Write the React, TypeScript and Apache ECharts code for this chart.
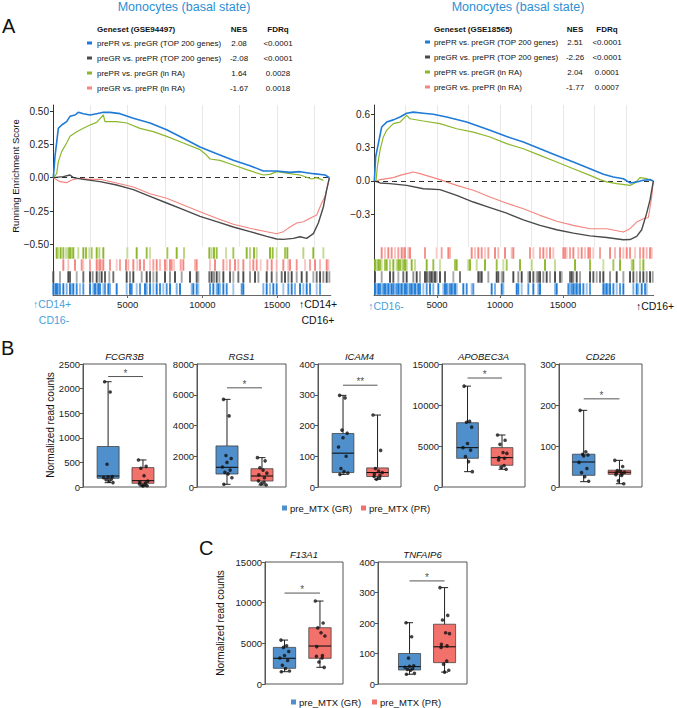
import React, { useEffect, useRef } from 'react';
import * as echarts from 'echarts';

const FONT = '"Liberation Sans", Arial, Helvetica, sans-serif';

// ---------------- Panel A : running enrichment score curves ----------------
const leftBlueES = [[22,0],[134,0.16],[357,0.37],[580,0.395],[915,0.42],[1138,0.46],[1473,0.47],[1696,0.49],[2031,0.48],[2477,0.47],[2924,0.48],[3370,0.49],[3817,0.49],[4486,0.48],[5379,0.445],[6495,0.41],[7611,0.36],[8727,0.295],[9843,0.23],[10959,0.18],[12075,0.13],[13191,0.09],[14084,0.05],[14977,0.05],[15870,0.04],[16539,0.045],[17432,0.03],[18213,0.02],[18503,0]];
const leftGreenES = [[22,0],[245,0.03],[357,0.12],[580,0.195],[915,0.26],[1138,0.31],[1585,0.345],[2031,0.37],[2477,0.395],[2924,0.415],[3370,0.47],[3482,0.42],[4263,0.42],[4933,0.41],[5826,0.37],[6718,0.345],[7611,0.31],[8727,0.26],[9843,0.21],[10178,0.18],[10513,0.14],[11182,0.13],[12075,0.095],[12968,0.06],[14084,0.02],[14530,0.025],[14977,0.045],[15870,0.03],[16539,0.02],[17320,-0.01],[17655,0],[18102,-0.02]];
const leftGreyES = [[22,0],[692,0.0075],[1138,0.02],[1362,0],[2031,-0.0125],[3147,-0.03],[4263,-0.055],[5379,-0.09],[6495,-0.14],[7611,-0.19],[8727,-0.24],[9843,-0.29],[10959,-0.33],[12075,-0.37],[13191,-0.405],[14307,-0.44],[14977,-0.46],[15423,-0.463],[16093,-0.455],[16539,-0.443],[16985,-0.455],[17432,-0.42],[17767,-0.34],[18102,-0.22],[18325,-0.09],[18503,0]];
const leftPinkES = [[22,0],[469,-0.03],[915,-0.0375],[1250,-0.0175],[1808,-0.005],[2477,-0.0125],[3147,-0.0125],[4263,-0.04],[5379,-0.07],[6495,-0.12],[7611,-0.155],[8727,-0.205],[9843,-0.255],[10959,-0.305],[12075,-0.35],[13191,-0.38],[14307,-0.405],[14977,-0.42],[15423,-0.405],[15870,-0.37],[16316,-0.34],[16762,-0.33],[17209,-0.305],[17655,-0.28],[17990,-0.19],[18213,-0.14],[18437,-0.04],[18503,0]];

const rightBlueES = [[26,0],[132,0.216],[344,0.336],[609,0.486],[1005,0.53],[1535,0.55],[2064,0.576],[2593,0.61],[3122,0.62],[3916,0.61],[4710,0.6],[5768,0.576],[7356,0.53],[9208,0.456],[10531,0.4],[11854,0.35],[13177,0.29],[14500,0.23],[15823,0.17],[17146,0.11],[18204,0.06],[18998,0.036],[19792,0.02],[20321,-0.018],[20850,-0.01],[21380,0.006],[21909,0.012],[22173,0]];
const rightGreenES = [[159,0],[265,0.126],[476,0.276],[741,0.396],[1005,0.456],[1535,0.516],[2064,0.53],[2593,0.59],[2858,0.56],[3916,0.54],[5239,0.516],[6562,0.47],[7885,0.44],[9208,0.396],[10531,0.336],[11854,0.29],[13177,0.23],[14500,0.17],[15823,0.11],[17146,0.05],[17940,0.012],[18469,-0.009],[19263,-0.024],[20321,-0.04],[20718,-0.018],[21115,0.03],[21644,0.021],[22041,0]];
const rightGreyES = [[26,0],[476,-0.018],[1270,-0.024],[2593,-0.04],[3916,-0.07],[5239,-0.078],[6562,-0.13],[7885,-0.19],[9208,-0.24],[10531,-0.29],[11854,-0.35],[13177,-0.4],[14500,-0.44],[15823,-0.47],[17146,-0.495],[18469,-0.51],[19792,-0.53],[20321,-0.528],[20850,-0.5],[21247,-0.44],[21644,-0.29],[21909,-0.17],[22173,0]];
const rightPinkES = [[212,0],[476,0.012],[1005,0.021],[1535,0.03],[2064,0.05],[2593,0.066],[3122,0.08],[3651,0.066],[4710,0.03],[5239,0.012],[6562,-0.04],[7885,-0.084],[9208,-0.144],[10531,-0.2],[11854,-0.25],[13177,-0.31],[14500,-0.363],[15823,-0.4],[17146,-0.43],[18469,-0.43],[19792,-0.46],[20321,-0.43],[20850,-0.37],[21380,-0.34],[21777,-0.33],[22041,-0.144],[22173,0]];

// gene-set hit positions (rank in list)
const leftGreenHits = [245,357,513,692,870,1027,1138,1250,1362,1696,2031,2210,2433,2589,2924,3102,3370,4977,5602,6272,6495,7656,8281,8772,10468,10624,10781,10959,11584,12075,12968,13191,13459,13638,14530,14709,14977,15535,15691,16762,17432,18102];
const leftPinkHits = [692,1027,1473,1920,2031,2478,2924,3036,3147,3259,3370,3817,4263,4486,4888,5044,5379,5647,5826,6093,6495,6718,6942,7165,7500,7611,7834,7946,8102,8549,8727,9508,9620,10513,10848,11406,11629,11852,12187,12410,12745,13191,13414,13638,13906,14352,14642,14977,15423,15758,15870,16316,16874,17209,17544,17879,18325,18437];
const leftGreyHits = [22,469,1027,1138,1585,2031,2478,2656,2924,3102,3259,3482,3772,4040,4933,5156,5379,5937,6272,6495,6718,6942,7500,7834,8169,8616,9174,9620,9732,10468,10624,10781,10959,11138,11406,11852,12075,12410,12745,13191,13526,13750,14307,14642,14977,15312,15535,15758,15981,16316,16651,16986,17432,17655,17879,18102,18325,18503];
const leftBlueHits = [22,112,201,290,379,469,692,915,1138,1250,1362,1585,1808,2031,2478,2701,2812,2924,3036,3147,3370,3482,3705,3817,4263,4933,5156,5268,5602,5826,6160,6272,6495,6718,6942,7165,7388,7611,7834,8281,8504,9285,9397,9620,9732,10513,10736,10959,11071,11182,11406,11629,12075,12633,12745,14084,14307,14530,14753,14977,15423,15758,15981,16204,16539,16762,16986,17209,17655,17879];

const rightPinkHits = [609,873,1138,1402,1667,1932,2196,2328,2461,2725,2858,4048,4974,5371,5901,6033,7753,8017,8282,8547,8811,9076,9605,9870,10399,10928,11060,12383,12648,13177,13442,13706,13971,14235,15029,15162,15294,15558,15823,16220,16485,16749,17014,17146,17411,17940,18734,19131,19528,19792,20057,20321,20718,21115,21380,21644,21909,22041];
const rightGreenHits = [79,212,344,476,609,873,1005,1270,1535,1799,1932,2064,2196,2328,2461,2593,2990,3255,4181,4710,5239,6430,6562,7488,7620,8150,8811,9737,10266,10531,11589,12516,13574,14368,15955,17146,18204,19000,19528,20454,20586,21115,21380];
const rightGreyHits = [79,609,1270,1535,1932,2328,2593,3122,3387,3651,4048,4181,4313,4445,4578,4710,4842,4974,5239,5636,6297,6827,8282,8414,8547,9076,9737,9870,10134,10266,11060,11457,11722,12251,12383,12648,12912,13045,13177,13442,13706,13971,14368,14765,14897,15558,15691,15823,16088,16352,17146,17411,17675,17940,18204,18734,19263,19792,20321,20586,20850,21115,21380,21644,21909,22121];
const rightBlueHits = [79,212,344,476,609,741,873,1005,1138,1270,1402,1535,1667,1799,1932,2064,2196,2328,2461,2593,2725,2858,2990,3122,3255,3387,3519,3651,3916,4181,4445,4710,5107,5504,5636,5768,5901,6033,6165,6297,6430,6562,7091,7356,7753,7885,9340,9605,10134,10266,11325,11457,11722,12251,12648,13045,13177,14368,14501,15426,15558,15691,15823,15955,16088,16220,16352,16617,16882,17146,18204,18337,18469,18602,18734,19000,19263,19528,19792,20586,20850,20983,21247,21512,21644];

const leftYTicks = [-0.5, -0.25, 0, 0.25, 0.5];
const rightYTicks = [-0.3, 0, 0.3, 0.6];
const rankTicks = [5000, 10000, 15000];

const leftTableGenesets = ['prePR vs. preGR (TOP 200 genes)', 'preGR vs. prePR (TOP 200 genes)', 'prePR vs. preGR (in RA)', 'preGR vs. prePR (in RA)'];
const leftNES = ['2.08', '-2.08', '1.64', '-1.67'];
const leftFDR = ['<0.0001', '<0.0001', '0.0028', '0.0018'];
const rightNES = ['2.51', '-2.26', '2.04', '-1.77'];
const rightFDR = ['<0.0001', '<0.0001', '0.0001', '0.0007'];

// ---------------- Panel B / C : box plots ----------------
const bGenes = ['FCGR3B', 'RGS1', 'ICAM4', 'APOBEC3A', 'CD226'];
const bAxisMax = [2500, 8000, 400, 15000, 300];
const bAxisStep = [500, 2000, 100, 5000, 100];
const bSigY = [2245, 6450, 331, 13290, 215];
const bSigText = ['*', '*', '**', '*', '*'];

// [lower whisker, Q1, median, Q3, upper whisker]
const FCGR3B_GR_box = [88, 177, 224, 823, 2140];
const FCGR3B_GR_pts = [2140, 1932, 463, 210, 200, 190, 160, 150, 120, 90];
const FCGR3B_PR_box = [20, 75, 129, 394, 550];
const FCGR3B_PR_pts = [550, 420, 380, 230, 120, 100, 80, 60, 45, 35, 25, 20];
const RGS1_GR_box = [175, 846, 1280, 2670, 5700];
const RGS1_GR_pts = [5700, 4625, 2050, 1850, 1600, 1300, 1100, 950, 850, 600, 175];
const RGS1_PR_box = [130, 390, 715, 1190, 1910];
const RGS1_PR_pts = [1910, 1700, 1250, 1100, 900, 800, 600, 400, 300, 200, 130];
const ICAM4_GR_box = [41, 47, 110, 174, 298];
const ICAM4_GR_pts = [298, 290, 185, 175, 160, 130, 100, 60, 50, 45, 41];
const ICAM4_PR_box = [25, 34, 47, 62, 234];
const ICAM4_PR_pts = [234, 119, 60, 52, 47, 42, 38, 34, 30, 25];
const APOBEC3A_GR_box = [1870, 3500, 4800, 7840, 12300];
const APOBEC3A_GR_pts = [12300, 8000, 7900, 7300, 5300, 4800, 4500, 3700, 3100, 1870];
const APOBEC3A_PR_box = [2160, 2650, 3580, 4800, 6340];
const APOBEC3A_PR_pts = [6340, 5700, 5200, 4200, 4100, 3600, 3500, 3300, 2600, 2400, 2160];
const CD226_GR_box = [13, 28.5, 61, 80, 187];
const CD226_GR_pts = [187, 86, 80, 78, 76, 60, 45, 35, 25, 14];
const CD226_PR_box = [8, 31, 36, 41, 65];
const CD226_PR_pts = [65, 50, 40, 38, 36, 34, 32, 30, 28, 15, 8];

const cGenes = ['F13A1', 'TNFAIP6'];
const cAxisMax = [15000, 400];
const cAxisStep = [5000, 100];
const cSigY = [11180, 338];
const cSigText = ['*', '*'];
const F13A1_GR_box = [1510, 1930, 3160, 4500, 5400];
const F13A1_GR_pts = [5400, 4700, 4500, 4000, 3500, 3200, 2900, 2300, 1900, 1600, 1510];
const F13A1_PR_box = [2050, 3160, 4670, 6920, 10200];
const F13A1_PR_pts = [10200, 7500, 6900, 6300, 5900, 4600, 3500, 3400, 3200, 2700, 2050];
const TNFAIP6_GR_box = [32, 46, 57, 100, 201];
const TNFAIP6_GR_pts = [201, 155, 85, 60, 58, 55, 50, 48, 45, 35, 32];
const TNFAIP6_PR_box = [39, 70, 122, 196, 316];
const TNFAIP6_PR_pts = [316, 225, 210, 168, 165, 130, 125, 120, 75, 65, 45, 39];

const groupNames = ['pre_MTX (GR)', 'pre_MTX (PR)'];

// ---------------- styles / layout ----------------
const COL_BLUE = '#1f7bd6';
const COL_GREEN = '#8cb72a';
const COL_GREY = '#4a4a4a';
const COL_PINK = '#f4857f';
const TITLE_BLUE = '#2a8fd4';
const BOX_BLUE = '#4f8fcb';
const BOX_PINK = '#f3716b';
const jitterPattern = [-0.1, 0.06, -0.03, 0.12, 0.0, -0.13, 0.09, -0.06, 0.03, 0.14, -0.09, 0.07];
const rugShade = [1, 0.5, 1, 0.9, 0.45, 0.8, 1, 0.6];

function txt(x: number, y: number, text: string, o: any = {}) {
  return {
    type: 'text', x, y, silent: true, rotation: o.rot || 0,
    style: {
      text,
      fill: o.fill || '#111',
      font: `${o.italic ? 'italic ' : ''}${o.bold ? 'bold ' : ''}${o.size || 9}px ${FONT}`,
      textAlign: o.align || 'left',
      textVerticalAlign: 'middle',
    },
  };
}

function buildOption() {
  const grids: any[] = [];
  const xAxes: any[] = [];
  const yAxes: any[] = [];
  const series: any[] = [];
  const graphic: any[] = [];

  const addGsea = (cfg: any) => {
    const gi = grids.length;
    grids.push({ left: cfg.left, top: 105, width: cfg.width, height: 142 });
    xAxes.push({
      gridIndex: gi, type: 'value', min: 0, max: cfg.xmax, interval: 2500,
      axisLine: { show: false }, axisTick: { show: false }, axisLabel: { show: false },
      splitLine: { show: true, showMinLine: false, showMaxLine: false, lineStyle: { color: '#e8e8e8', width: 1 } },
    });
    yAxes.push({
      gridIndex: gi, type: 'value', min: cfg.ymin, max: cfg.ymax,
      axisLine: { show: true, lineStyle: { color: '#333', width: 1 } },
      axisTick: { show: true, length: 3, customValues: cfg.yTicks, lineStyle: { color: '#333' } },
      axisLabel: {
        customValues: cfg.yTicks, fontSize: 10, color: '#222', margin: 4, fontFamily: FONT,
        formatter: (v: number) => v.toFixed(cfg.dec).replace('-', '\u2212'),
      },
      splitLine: { show: false },
    });
    cfg.curves.forEach((c: any, k: number) => {
      series.push({
        type: 'line', xAxisIndex: gi, yAxisIndex: gi, data: c.data, symbol: 'none', showSymbol: false,
        lineStyle: { color: c.color, width: c.width }, z: 3 + k, silent: true,
        markLine: k === 0 ? {
          silent: true, symbol: 'none', label: { show: false },
          lineStyle: { type: [5, 4], color: '#333', width: 1.1 }, data: [{ yAxis: 0 }],
        } : undefined,
      });
    });
    const ri = grids.length;
    grids.push({ left: cfg.left, top: 247, width: cfg.width, height: 48 });
    xAxes.push({
      gridIndex: ri, type: 'value', min: 0, max: cfg.xmax,
      axisLine: { show: true, lineStyle: { color: '#666', width: 1 } },
      axisTick: { show: true, length: 3, customValues: rankTicks, lineStyle: { color: '#666' } },
      axisLabel: { customValues: rankTicks, fontSize: 9.5, color: '#222', margin: 4, fontFamily: FONT, formatter: (v: number) => String(v) },
      splitLine: { show: false },
    });
    yAxes.push({
      gridIndex: ri, type: 'value', min: 0, max: 4,
      axisLine: { show: true, lineStyle: { color: '#333', width: 1 } },
      axisTick: { show: false }, axisLabel: { show: false }, splitLine: { show: false },
    });
    cfg.rugs.forEach((r: any, k: number) => {
      series.push({
        type: 'scatter', xAxisIndex: ri, yAxisIndex: ri, symbol: 'rect', symbolSize: [1.9, 11.5], silent: true,
        data: r.hits.map((h: number, i: number) => ({
          value: [h, 3.5 - k],
          itemStyle: { color: r.color, opacity: rugShade[i % rugShade.length] },
        })),
      });
    });
  };

  addGsea({
    left: 53, width: 277.8, xmax: 18600, ymin: -0.52, ymax: 0.545, yTicks: leftYTicks, dec: 2,
    curves: [
      { data: leftPinkES, color: COL_PINK, width: 1.1 },
      { data: leftGreyES, color: COL_GREY, width: 1.4 },
      { data: leftGreenES, color: COL_GREEN, width: 1.2 },
      { data: leftBlueES, color: COL_BLUE, width: 1.6 },
    ],
    rugs: [
      { hits: leftGreenHits, color: COL_GREEN },
      { hits: leftPinkHits, color: COL_PINK },
      { hits: leftGreyHits, color: COL_GREY },
      { hits: leftBlueHits, color: COL_BLUE },
    ],
  });
  addGsea({
    left: 374, width: 279.7, xmax: 22200, ymin: -0.595, ymax: 0.684, yTicks: rightYTicks, dec: 1,
    curves: [
      { data: rightPinkES, color: COL_PINK, width: 1.1 },
      { data: rightGreyES, color: COL_GREY, width: 1.4 },
      { data: rightGreenES, color: COL_GREEN, width: 1.2 },
      { data: rightBlueES, color: COL_BLUE, width: 1.6 },
    ],
    rugs: [
      { hits: rightPinkHits, color: COL_PINK },
      { hits: rightGreenHits, color: COL_GREEN },
      { hits: rightGreyHits, color: COL_GREY },
      { hits: rightBlueHits, color: COL_BLUE },
    ],
  });

  const addBox = (cfg: any) => {
    const gi = grids.length;
    grids.push({ left: cfg.left, top: cfg.top, width: cfg.width, height: cfg.height, show: true, borderColor: '#555', borderWidth: 1, backgroundColor: 'transparent' });
    xAxes.push({ gridIndex: gi, type: 'value', min: cfg.xmin, max: cfg.xmax, show: false });
    yAxes.push({
      gridIndex: gi, type: 'value', min: 0, max: cfg.ymax, interval: cfg.step,
      axisLine: { show: true, lineStyle: { color: '#555', width: 1 } },
      axisTick: { show: true, length: 3, lineStyle: { color: '#555' } },
      axisLabel: { fontSize: 9.5, color: '#222', margin: 3, fontFamily: FONT, formatter: (v: number) => String(v) },
      splitLine: { show: false },
    });
    const boxColors = [BOX_BLUE, BOX_PINK];
    series.push({
      type: 'custom', xAxisIndex: gi, yAxisIndex: gi, silent: true, z: 2,
      data: [[1, ...cfg.grBox], [2, ...cfg.prBox]],
      renderItem: (params: any, api: any) => {
        const x = api.value(0);
        const lo = api.value(1), q1 = api.value(2), med = api.value(3), q3 = api.value(4), hi = api.value(5);
        const hw = 0.315, cw = 0.1;
        const a = api.coord([x, lo]), b = api.coord([x, hi]);
        const bl = api.coord([x - hw, q1]), tr = api.coord([x + hw, q3]);
        const ml = api.coord([x - hw, med]), mr = api.coord([x + hw, med]);
        const c1 = api.coord([x - cw, lo]), c2 = api.coord([x + cw, lo]);
        const c3 = api.coord([x - cw, hi]), c4 = api.coord([x + cw, hi]);
        const ls = { stroke: '#222', lineWidth: 1 };
        return {
          type: 'group', children: [
            { type: 'line', shape: { x1: a[0], y1: a[1], x2: b[0], y2: b[1] }, style: ls },
            { type: 'line', shape: { x1: c1[0], y1: c1[1], x2: c2[0], y2: c2[1] }, style: ls },
            { type: 'line', shape: { x1: c3[0], y1: c3[1], x2: c4[0], y2: c4[1] }, style: ls },
            { type: 'rect', shape: { x: bl[0], y: tr[1], width: tr[0] - bl[0], height: bl[1] - tr[1] }, style: { fill: boxColors[params.dataIndex], stroke: '#444', lineWidth: 0.8 } },
            { type: 'line', shape: { x1: ml[0], y1: ml[1], x2: mr[0], y2: mr[1] }, style: { stroke: '#111', lineWidth: 1.1 } },
          ],
        };
      },
    });
    [cfg.grPts, cfg.prPts].forEach((pts: number[], g: number) => {
      series.push({
        type: 'scatter', xAxisIndex: gi, yAxisIndex: gi, silent: true, z: 4,
        symbol: 'circle', symbolSize: 3.6, itemStyle: { color: '#111' },
        data: pts.map((v, i) => [g + 1 + jitterPattern[(i + g * 5) % jitterPattern.length], v]),
      });
    });
    series.push({
      type: 'line', xAxisIndex: gi, yAxisIndex: gi, silent: true, symbol: 'none', z: 4,
      lineStyle: { color: '#555', width: 1 }, data: [[1, cfg.sigY], [2, cfg.sigY]],
    });
    series.push({
      type: 'scatter', xAxisIndex: gi, yAxisIndex: gi, silent: true, symbolSize: 1, z: 4,
      itemStyle: { color: 'transparent' }, data: [[1.5, cfg.sigY]],
      label: { show: true, position: 'top', distance: -2, formatter: cfg.sigText, fontSize: 10, color: '#222', fontFamily: FONT },
    });
    graphic.push(txt(cfg.left + cfg.width / 2, cfg.top - 8, cfg.gene, { italic: true, size: 9.5, align: 'center' }));
  };

  const bBoxes = [
    [FCGR3B_GR_box, FCGR3B_PR_box, FCGR3B_GR_pts, FCGR3B_PR_pts],
    [RGS1_GR_box, RGS1_PR_box, RGS1_GR_pts, RGS1_PR_pts],
    [ICAM4_GR_box, ICAM4_PR_box, ICAM4_GR_pts, ICAM4_PR_pts],
    [APOBEC3A_GR_box, APOBEC3A_PR_box, APOBEC3A_GR_pts, APOBEC3A_PR_pts],
    [CD226_GR_box, CD226_PR_box, CD226_GR_pts, CD226_PR_pts],
  ];
  const bPos = [
    { left: 83, width: 83, xmin: 0.28, xmax: 2.66 },
    { left: 197, width: 89, xmin: 0.143, xmax: 2.686 },
    { left: 318, width: 83, xmin: 0.275, xmax: 2.68 },
    { left: 442, width: 83, xmin: 0.26, xmax: 2.666 },
    { left: 559, width: 83, xmin: 0.31, xmax: 2.63 },
  ];
  bGenes.forEach((gene, i) => addBox({
    ...bPos[i], top: 364, height: 123, gene, ymax: bAxisMax[i], step: bAxisStep[i],
    grBox: bBoxes[i][0], prBox: bBoxes[i][1], grPts: bBoxes[i][2], prPts: bBoxes[i][3],
    sigY: bSigY[i], sigText: bSigText[i],
  }));

  const cBoxes = [
    [F13A1_GR_box, F13A1_PR_box, F13A1_GR_pts, F13A1_PR_pts],
    [TNFAIP6_GR_box, TNFAIP6_PR_box, TNFAIP6_GR_pts, TNFAIP6_PR_pts],
  ];
  const cPos = [
    { left: 265, width: 78, xmin: 0.45, xmax: 2.65 },
    { left: 378, width: 89, xmin: 0.1, xmax: 2.64 },
  ];
  cGenes.forEach((gene, i) => addBox({
    ...cPos[i], top: 562, height: 122, gene, ymax: cAxisMax[i], step: cAxisStep[i],
    grBox: cBoxes[i][0], prBox: cBoxes[i][1], grPts: cBoxes[i][2], prPts: cBoxes[i][3],
    sigY: cSigY[i], sigText: cSigText[i],
  }));

  // ---- texts for panel A ----
  graphic.push(txt(184, 7, 'Monocytes (basal state)', { size: 12.5, fill: TITLE_BLUE, align: 'center' }));
  graphic.push(txt(518, 7, 'Monocytes (basal state)', { size: 12.5, fill: TITLE_BLUE, align: 'center' }));
  graphic.push(txt(2, 26, 'A', { size: 20 }));
  graphic.push(txt(1, 348, 'B', { size: 20 }));
  graphic.push(txt(199, 548, 'C', { size: 20 }));

  const rowColors = [COL_BLUE, COL_GREY, COL_GREEN, COL_PINK];
  const table = (swX: number, textX: number, nesX: number, fdrX: number, rowY: number[], head: string, nes: string[], fdr: string[]) => {
    graphic.push(txt(textX, 29, head, { bold: true, size: 8 }));
    graphic.push(txt(nesX, 29, 'NES', { bold: true, size: 8, align: 'center' }));
    graphic.push(txt(fdrX, 29, 'FDRq', { bold: true, size: 8, align: 'center' }));
    leftTableGenesets.forEach((g, i) => {
      graphic.push({ type: 'rect', silent: true, shape: { x: swX, y: rowY[i] - 1.5, width: 5, height: 3 }, style: { fill: rowColors[i] } });
      graphic.push(txt(textX, rowY[i], g, { size: 8 }));
      graphic.push(txt(nesX, rowY[i], nes[i], { size: 8, align: 'center' }));
      graphic.push(txt(fdrX, rowY[i], fdr[i], { size: 8, align: 'center' }));
    });
  };
  table(87, 97, 239, 278, [43, 58, 73, 88], 'Geneset (GSE94497)', leftNES, leftFDR);
  table(425, 434, 575, 607, [42, 57, 72, 87], 'Geneset (GSE18565)', rightNES, rightFDR);

  graphic.push(txt(15, 176, 'Running Enrichment Score', { size: 9.5, align: 'center', rot: Math.PI / 2 }));
  graphic.push(txt(52, 304, '\u2191CD14+', { size: 10.5, fill: '#4a9fdc', align: 'center' }));
  graphic.push(txt(54, 320, 'CD16-', { size: 10.5, fill: '#4a9fdc', align: 'center' }));
  graphic.push(txt(318, 304, '\u2191CD14+', { size: 10.5, fill: '#111', align: 'center' }));
  graphic.push(txt(318, 320, 'CD16+', { size: 10.5, fill: '#111', align: 'center' }));
  graphic.push(txt(386, 306, '\u2191CD16-', { size: 10.5, fill: '#4a9fdc', align: 'center' }));
  graphic.push(txt(655, 306, '\u2191CD16+', { size: 10.5, fill: '#111', align: 'center' }));

  // ---- y titles & legends for B / C ----
  graphic.push(txt(50, 425, 'Normalized read counts', { size: 10, align: 'center', rot: Math.PI / 2 }));
  graphic.push(txt(220, 623, 'Normalized read counts', { size: 10, align: 'center', rot: Math.PI / 2 }));
  const legend = (x1: number, x2: number, y: number) => {
    graphic.push({ type: 'rect', silent: true, shape: { x: x1, y: y - 2.5, width: 5, height: 5 }, style: { fill: BOX_BLUE } });
    graphic.push(txt(x1 + 8, y, groupNames[0], { size: 9.5 }));
    graphic.push({ type: 'rect', silent: true, shape: { x: x2, y: y - 2.5, width: 5, height: 5 }, style: { fill: BOX_PINK } });
    graphic.push(txt(x2 + 8, y, groupNames[1], { size: 9.5 }));
  };
  legend(282, 361, 508);
  legend(291, 372, 702);

  return {
    animation: false,
    backgroundColor: '#fff',
    textStyle: { fontFamily: FONT },
    grid: grids,
    xAxis: xAxes,
    yAxis: yAxes,
    series,
    graphic,
  };
}

export default function App() {
  const ref = useRef<HTMLDivElement>(null);
  useEffect(() => {
    const chart = echarts.init(ref.current!, null, { renderer: 'svg' });
    chart.setOption(buildOption() as any);
    return () => chart.dispose();
  }, []);
  return <div ref={ref} style={{ position: 'absolute', left: 0, top: 0, width: 677, height: 708, background: '#fff' }} />;
}
